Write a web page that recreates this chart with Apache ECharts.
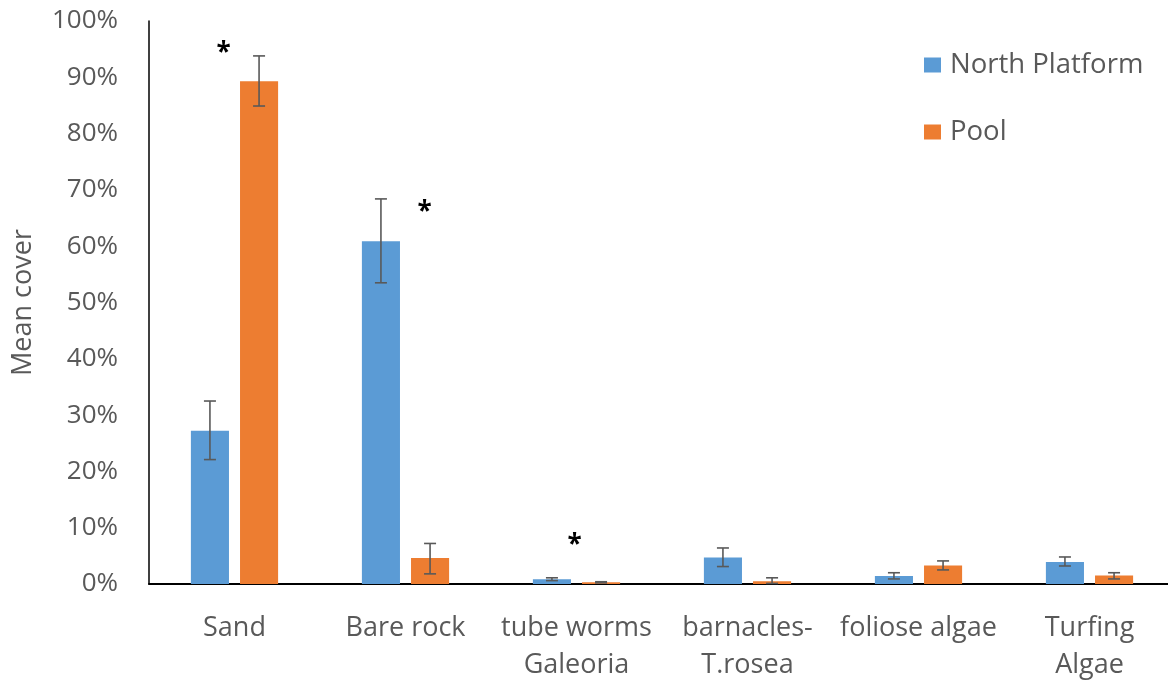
<!DOCTYPE html>
<html>
<head>
<meta charset="utf-8">
<script src="https://cdn.jsdelivr.net/npm/echarts@6/dist/echarts.min.js"></script>
<style>html,body{margin:0;padding:0;background:#fff;}#chart{width:1168px;height:681px;}</style>
</head>
<body>
<div id="chart"></div>
<script>
var categories = ['Sand', 'Bare rock', 'tube worms\nGaleoria', 'barnacles-\nT.rosea', 'foliose algae', 'Turfing\nAlgae'];
var seriesNames = ['North Platform', 'Pool'];
var northPlatform = [27.2, 60.9, 0.85, 4.7, 1.4, 3.9];
var northLow  = [22.1, 53.5, 0.6, 3.1, 0.9, 3.2];
var northHigh = [32.5, 68.4, 1.1, 6.4, 2.0, 4.8];
var pool = [89.3, 4.6, 0.3, 0.5, 3.3, 1.5];
var poolLow  = [84.9, 1.8, 0.2, 0.1, 2.5, 0.9];
var poolHigh = [93.8, 7.2, 0.4, 1.1, 4.1, 2.0];
var asteriskCats = [0, 1, 2];
var asteriskVals = [95.5, 67.3, 8.0];
var yTicks = [0, 10, 20, 30, 40, 50, 60, 70, 80, 90, 100];

var asteriskOffsetPx = [-11, 19, -2];
var BAR_CAT_GAP = 0.49, BAR_GAP = 0.29;

function errData(lo, hi) { return lo.map(function (v, i) { return [i, v, hi[i]]; }); }

function errRender(sign) {
  return function (params, api) {
    var ci = api.value(0);
    var pLo = api.coord([ci, api.value(1)]);
    var pHi = api.coord([ci, api.value(2)]);
    var bw = api.size([1, 0])[0];
    var barW = bw * (1 - BAR_CAT_GAP) / (2 + BAR_GAP);
    var off = barW * (1 + BAR_GAP) / 2;
    var x = pLo[0] + sign * off;
    var cap = 6;
    var st = { stroke: '#595959', lineWidth: 1.6 };
    return {
      type: 'group',
      children: [
        { type: 'line', shape: { x1: x, y1: pLo[1], x2: x, y2: pHi[1] }, style: st },
        { type: 'line', shape: { x1: x - cap, y1: pLo[1], x2: x + cap, y2: pLo[1] }, style: st },
        { type: 'line', shape: { x1: x - cap, y1: pHi[1], x2: x + cap, y2: pHi[1] }, style: st }
      ]
    };
  };
}

var chart = echarts.init(document.getElementById('chart'));
chart.setOption({
  animation: false,
  backgroundColor: '#ffffff',
  grid: { left: 149, right: -7, top: 21, bottom: 97, containLabel: false, outerBoundsMode: 'none' },
  legend: {
    data: seriesNames,
    orient: 'vertical',
    left: 919,
    top: 45,
    itemWidth: 17,
    itemHeight: 15,
    itemGap: 37,
    icon: 'rect',
    textStyle: { fontFamily: 'Open Sans', fontSize: 27.5, color: '#595959', lineHeight: 30, padding: [0, 0, 0, 4] }
  },
  xAxis: {
    type: 'category',
    data: categories,
    axisLine: { show: true, lineStyle: { color: '#000', width: 2 } },
    axisTick: { show: false },
    axisLabel: { fontFamily: 'Open Sans', fontSize: 27, color: '#595959', lineHeight: 37, margin: 26, interval: 0 },
    splitLine: { show: false }
  },
  yAxis: {
    type: 'value',
    min: 0, max: 100, interval: 10,
    name: 'Mean cover',
    nameLocation: 'middle',
    nameGap: 112,
    nameRotate: 90,
    nameTextStyle: { fontFamily: 'Open Sans', fontSize: 27, color: '#595959' },
    axisLine: { show: true, lineStyle: { color: '#000', width: 1.5 } },
    axisTick: { show: false },
    splitLine: { show: false },
    axisLabel: { fontFamily: 'Open Sans', fontSize: 26, color: '#595959', margin: 31,
      formatter: function (v) { return yTicks.indexOf(v) >= 0 ? v + '%' : ''; } }
  },
  series: [
    { name: seriesNames[0], type: 'bar', data: northPlatform, itemStyle: { color: '#5B9BD5' },
      barGap: (BAR_GAP * 100) + '%', barCategoryGap: (BAR_CAT_GAP * 100) + '%' },
    { name: seriesNames[1], type: 'bar', data: pool, itemStyle: { color: '#ED7D31' },
      barGap: (BAR_GAP * 100) + '%', barCategoryGap: (BAR_CAT_GAP * 100) + '%' },
    { type: 'custom', renderItem: errRender(-1), data: errData(northLow, northHigh), encode: { x: 0, y: [1, 2] }, z: 5, silent: true },
    { type: 'custom', renderItem: errRender(1), data: errData(poolLow, poolHigh), encode: { x: 0, y: [1, 2] }, z: 5, silent: true },
    { type: 'custom', silent: true, z: 6,
      data: asteriskCats.map(function (c, i) { return [c, asteriskVals[i], i]; }),
      encode: { x: 0, y: 1 },
      renderItem: function (params, api) {
        var p = api.coord([api.value(0), api.value(1)]);
        var idx = api.value(2);
        return { type: 'text', style: { text: '*', x: p[0] + asteriskOffsetPx[idx], y: p[1] + 7,
          fontSize: 26, fontWeight: 'bold', fontFamily: 'Open Sans', fill: '#000', align: 'center', verticalAlign: 'middle' } };
      }
    }
  ]
});
</script>
</body>
</html>
